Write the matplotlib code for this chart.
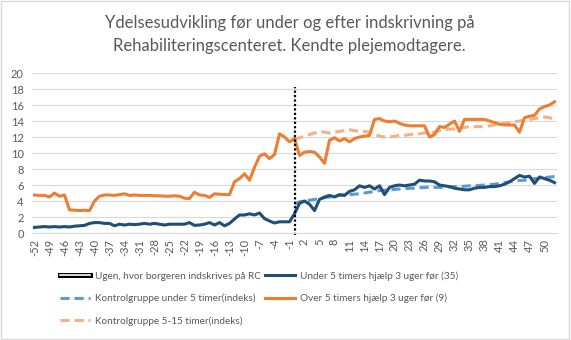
import matplotlib
matplotlib.use("Agg")
import matplotlib.pyplot as plt
import matplotlib.patheffects as pe
from matplotlib.lines import Line2D
from matplotlib.patches import Rectangle

plt.rcParams['font.family'] = ['Lato', 'DejaVu Sans']

# uger -52 .. 52
weeks = list(range(-52, 53))
weeks_after = list(range(0, 53))

under5 = [0.7, 0.75, 0.8, 0.75, 0.8, 0.75, 0.8, 0.75, 0.85, 0.9, 0.95, 1.2, 1.3, 1.3, 1.2, 1.2,
          0.9, 1.1, 1.0, 1.1, 1.05, 1.1, 1.2, 1.1, 1.2, 1.1, 1.0, 1.1, 1.1, 1.1, 1.1, 1.3,
          0.95, 1.0, 1.1, 1.3, 1.0, 1.3, 0.9, 1.2, 1.75, 2.25, 2.25, 2.4, 2.25, 2.5, 1.8, 1.5,
          1.25, 1.4, 1.4, 1.4, 2.4,
          3.7, 4.0, 3.6, 2.8, 4.2, 4.5, 4.7, 4.5, 4.8, 4.7, 5.2, 5.4, 5.9, 5.7, 5.9, 5.5,
          5.9, 4.8, 5.7, 5.9, 6.0, 5.9, 6.0, 6.1, 6.6, 6.5, 6.5, 6.4, 6.0, 5.9, 5.8, 5.6,
          5.5, 5.4, 5.4, 5.6, 5.7, 5.7, 5.8, 5.8, 5.9, 6.1, 6.4, 6.8, 7.2, 7.0, 7.1, 6.2,
          7.0, 6.8, 6.6, 6.3]

over5 = [4.75, 4.7, 4.7, 4.5, 5.0, 4.6, 4.75, 2.9, 2.85, 2.8, 2.85, 2.8, 4.0, 4.6, 4.75, 4.75,
         4.7, 4.8, 4.9, 4.7, 4.75, 4.7, 4.7, 4.7, 4.65, 4.65, 4.6, 4.6, 4.65, 4.6, 4.35, 4.3,
         5.1, 4.75, 4.7, 4.45, 4.9, 4.85, 4.8, 4.8, 6.4, 6.8, 7.4, 6.6, 8.2, 9.6, 9.9, 9.3,
         9.8, 12.4, 12.0, 11.4, 11.8,
         9.7, 10.1, 10.2, 10.1, 9.5, 8.7, 11.6, 11.9, 11.5, 11.8, 11.4, 11.8, 12.0, 12.1, 12.2, 14.2,
         14.3, 14.0, 13.9, 14.0, 13.7, 13.5, 13.4, 13.4, 13.4, 13.4, 12.0, 12.3, 13.3, 13.2, 13.6, 14.0,
         12.7, 14.2, 14.2, 14.2, 14.2, 14.2, 14.0, 13.8, 13.6, 13.5, 13.5, 13.5, 12.6, 14.4, 14.6, 14.7,
         15.5, 15.8, 16.0, 16.4]

kontrol_u5 = [3.6, 3.9, 4.0, 4.1, 4.2, 4.3, 4.4, 4.5, 4.6, 4.7, 4.75, 4.8, 4.85, 4.9, 5.0, 5.1,
              5.2, 5.3, 5.35, 5.4, 5.45, 5.5, 5.55, 5.6, 5.6, 5.65, 5.7, 5.7, 5.7, 5.7, 5.7, 5.75,
              5.8, 5.8, 5.85, 5.9, 5.9, 5.95, 6.0, 6.05, 6.1, 6.2, 6.3, 6.4, 6.5, 6.55, 6.6, 6.7,
              6.8, 6.85, 6.9, 7.0, 7.05]

kontrol_515 = [11.7, 11.9, 12.1, 12.3, 12.5, 12.7, 12.6, 12.5, 12.6, 12.7, 12.8, 12.9, 12.8, 12.7, 12.7, 12.6,
               12.3, 12.1, 12.0, 12.0, 12.1, 12.2, 12.2, 12.3, 12.4, 12.4, 12.5, 12.5, 12.6, 12.8, 12.9, 13.0,
               13.0, 13.1, 13.2, 13.3, 13.3, 13.3, 13.3, 13.4, 13.5, 13.6, 13.7, 13.8, 13.9, 14.0, 14.1, 14.2,
               14.3, 14.4, 14.5, 14.4, 14.3]

tick_weeks = weeks[::3]
tick_labels = [str(w) for w in tick_weeks]

title = "Ydelsesudvikling før under og efter indskrivning på\nRehabiliteringscenteret. Kendte plejemodtagere."

grey = "#595959"
c_under = "#1F4E79"
c_over = "#ED7D31"
c_ku5 = "#5B9BD5"
c_k515 = "#F4B183"

fig = plt.figure(figsize=(5.71, 3.40), dpi=100)
ax = fig.add_axes([32 / 571, 1 - 233 / 340, 525 / 571, 160 / 340])

ax.plot(weeks_after, kontrol_u5, color=c_ku5, lw=2.2, dashes=(3, 1.6))
ax.plot(weeks_after, kontrol_515, color=c_k515, lw=2.2, dashes=(3, 1.6))
ax.plot(weeks, under5, color=c_under, lw=2.2, solid_joinstyle='round')
ax.plot(weeks, over5, color=c_over, lw=2.2, solid_joinstyle='round')
ax.plot([0, 0], [-0.3, 18.3], color='black', lw=1.6, ls=(0, (1, 1)), clip_on=False)

ax.set_xlim(-52.5, 52.5)
ax.set_ylim(0, 20)
ax.set_yticks(range(0, 21, 2))
ax.set_xticks(tick_weeks)
ax.set_xticklabels(tick_labels, rotation=90)
ax.tick_params(axis='both', length=0, labelsize=8, labelcolor=grey)
ax.tick_params(axis='x', pad=4)
ax.tick_params(axis='y', pad=6)
ax.grid(axis='y', color='#d9d9d9', lw=0.8)
ax.set_axisbelow(True)
for s in ['top', 'right', 'left']:
    ax.spines[s].set_visible(False)
ax.spines['bottom'].set_color('#d9d9d9')

fig.text(0.507, 1 - 34.5 / 340, title, ha='center', va='center', fontsize=12, color=grey, linespacing=1.55)

h_ugen = Line2D([], [], color='white', lw=1.2,
                path_effects=[pe.Stroke(linewidth=3.6, foreground='black'), pe.Normal()])
handles = [
    h_ugen,
    Line2D([], [], color=c_ku5, lw=2.2, dashes=(3, 1.6)),
    Line2D([], [], color=c_k515, lw=2.2, dashes=(3, 1.6)),
    Line2D([], [], color=c_under, lw=2.2),
    Line2D([], [], color=c_over, lw=2.2),
]
labels = [
    "Ugen, hvor borgeren indskrives på RC",
    "Kontrolgruppe under 5 timer(indeks)",
    "Kontrolgruppe 5-15 timer(indeks)",
    "Under 5 timers hjælp 3 uger før (35)",
    "Over 5 timers hjælp 3 uger før (9)",
]
leg = fig.legend(handles, labels, ncol=2, loc='upper left', bbox_to_anchor=(56 / 571, 1 - 267 / 340),
                 frameon=False, fontsize=7.2, labelcolor=grey, handlelength=3.0, handletextpad=0.5,
                 columnspacing=0.4, labelspacing=1.3, borderaxespad=0)

fig.patches.append(Rectangle((0.002, 0.003), 0.995, 0.994, transform=fig.transFigure,
                             fill=False, edgecolor='#d9d9d9', lw=1))

fig.savefig("out.png", dpi=100)
